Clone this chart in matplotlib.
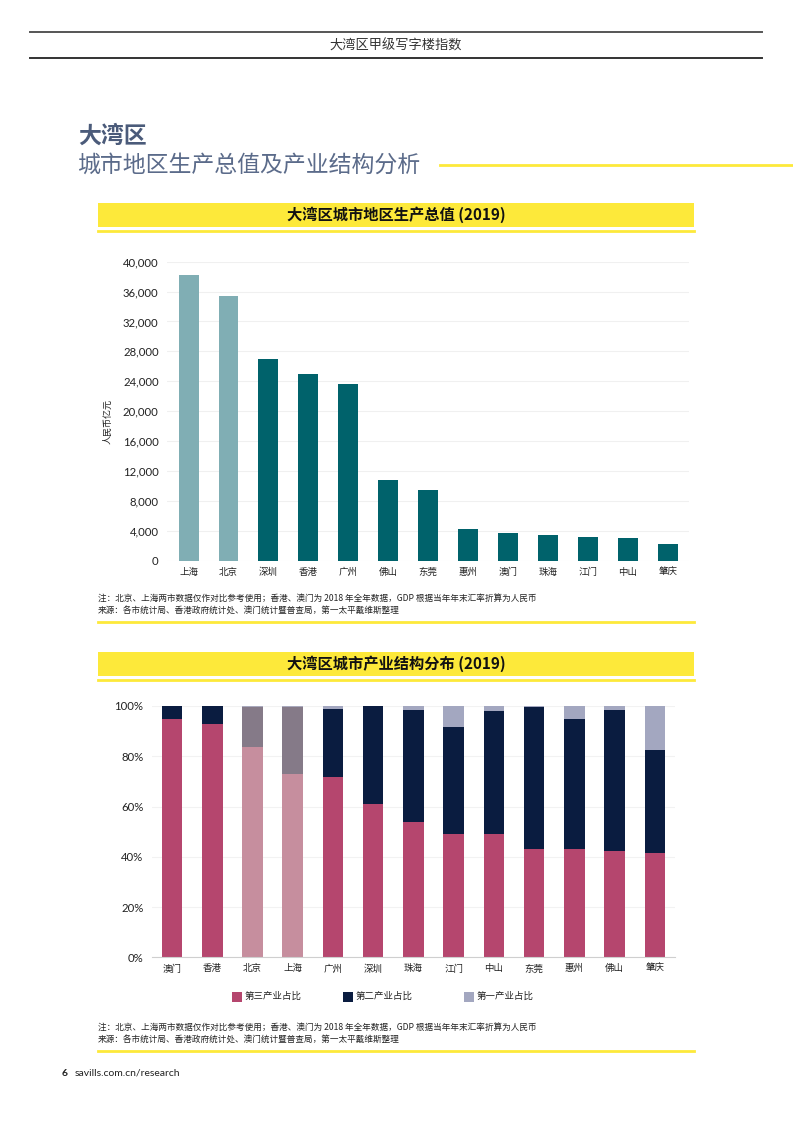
import matplotlib.pyplot as plt
from matplotlib.patches import Rectangle
from matplotlib.lines import Line2D

plt.rcParams['font.family'] = ['Noto Sans CJK SC', 'DejaVu Sans']

W, H = 793, 1122

# datos: PIB por ciudad (亿元)
gdp_cities = ['上海', '北京', '深圳', '香港', '广州', '佛山', '东莞', '惠州', '澳门', '珠海', '江门', '中山', '肇庆']
gdp_values = [38155, 35371, 26927, 25000, 23628, 10751, 9482, 4177, 3750, 3436, 3147, 3101, 2249]
gdp_ticks = [0, 4000, 8000, 12000, 16000, 20000, 24000, 28000, 32000, 36000, 40000]

# datos: estructura industrial (%)
ind_cities = ['澳门', '香港', '北京', '上海', '广州', '深圳', '珠海', '江门', '中山', '东莞', '惠州', '佛山', '肇庆']
tertiary = [95.0, 93.0, 83.7, 72.8, 71.6, 61.0, 53.7, 48.9, 48.9, 43.0, 43.0, 42.3, 41.6]
secondary = [5.0, 6.9, 16.0, 26.9, 27.1, 38.9, 44.7, 42.9, 49.1, 56.7, 51.8, 56.1, 40.9]
primary = [0.0, 0.1, 0.3, 0.3, 1.3, 0.1, 1.6, 8.2, 2.0, 0.3, 5.2, 1.6, 17.5]
pct_ticks = [0, 20, 40, 60, 80, 100]
legend_labels = ['第三产业占比', '第二产业占比', '第一产业占比']

note1 = '注：北京、上海两市数据仅作对比参考使用；香港、澳门为 2018 年全年数据，GDP 根据当年年末汇率折算为人民币'
note2 = '来源：各市统计局、香港政府统计处、澳门统计暨普查局，第一太平戴维斯整理'

YELLOW = '#fde93a'
TEXT = '#222222'
NUM_FONT = ['Lato', 'DejaVu Sans']


def fx(x):
    return x / W


def fy(y):
    return 1 - y / H


def axes_px(x0, y0, x1, y1):
    return fig.add_axes([fx(x0), fy(y1), (x1 - x0) / W, (y1 - y0) / H])


def hline(x0, x1, y, color, lw):
    fig.add_artist(Line2D([fx(x0), fx(x1)], [fy(y), fy(y)], color=color, lw=lw))


def banner(y0, y1, title):
    fig.add_artist(Rectangle((fx(98), fy(y1)), (694 - 98) / W, (y1 - y0) / H,
                             color=YELLOW, lw=0))
    hline(98, 694, y1 + 3.5, YELLOW, 2)
    fig.text(fx(396), fy((y0 + y1) / 2), title, ha='center', va='center',
             fontsize=11, fontweight='bold', color='#111111')


def notes(y):
    fig.text(fx(98), fy(y), note1, fontsize=6.2, color=TEXT, va='center')
    fig.text(fx(98), fy(y + 13), note2, fontsize=6.2, color=TEXT, va='center')
    hline(98, 694, y + 24, YELLOW, 2)


fig = plt.figure(figsize=(W / 100, H / 100), dpi=100)

# cabecera
hline(30, 762, 32, '#555555', 1.4)
hline(30, 762, 58, '#333333', 1.4)
fig.text(fx(396), fy(46), '大湾区甲级写字楼指数', ha='center', va='center', fontsize=9.5, color='#333333')

fig.text(fx(78), fy(136), '大湾区', fontsize=16.5, fontweight='bold', color='#4b5b7a', va='center')
fig.text(fx(77), fy(165), '城市地区生产总值及产业结构分析', fontsize=16.5, fontweight='light',
         color='#5b6b8a', va='center')
hline(440, 793, 165, YELLOW, 2)

# grafico 1
banner(203, 227, '大湾区城市地区生产总值 (2019)')
ax1 = axes_px(167, 261.7, 689, 560.7)
xs = range(len(gdp_cities))
colors1 = ['#80aeb4' if c in ('上海', '北京') else '#00626b' for c in gdp_cities]
ax1.bar(xs, gdp_values, width=0.5, color=colors1, zorder=2)
ax1.set_xlim(-0.54, 12.53)
ax1.set_ylim(0, 40000)
ax1.set_yticks(gdp_ticks)
ax1.set_yticklabels([f'{v:,}' for v in gdp_ticks], fontsize=8.2, family=NUM_FONT, color=TEXT)
ax1.set_xticks(list(xs))
ax1.set_xticklabels(gdp_cities, fontsize=6.8, color=TEXT)
ax1.tick_params(length=0, pad=5)
ax1.tick_params(axis='y', pad=6)
ax1.grid(axis='y', color='#f0f0f0', lw=0.8, zorder=0)
for s in ax1.spines.values():
    s.set_visible(False)
fig.text(fx(108), fy(422), '人民币亿元', rotation=90, ha='center', va='center', fontsize=6.5, color=TEXT)
notes(598)

# grafico 2
banner(652, 676, '大湾区城市产业结构分布 (2019)')
ax2 = axes_px(151.7, 706, 675, 957.3)
xs2 = range(len(ind_cities))
hl = [c in ('北京', '上海') for c in ind_cities]
c_ter = ['#c68e9e' if h else '#b5466e' for h in hl]
c_sec = ['#857a88' if h else '#0a1c40' for h in hl]
c_pri = ['#a9a9bd' if h else '#a3a7c0' for h in hl]
bottom2 = [t + s for t, s in zip(tertiary, secondary)]
ax2.bar(xs2, tertiary, width=0.51, color=c_ter, zorder=2)
ax2.bar(xs2, secondary, width=0.51, bottom=tertiary, color=c_sec, zorder=2)
ax2.bar(xs2, primary, width=0.51, bottom=bottom2, color=c_pri, zorder=2)
ax2.set_xlim(-0.505, 12.5)
ax2.set_ylim(0, 100)
ax2.set_yticks(pct_ticks)
ax2.set_yticklabels([f'{v}%' for v in pct_ticks], fontsize=8.2, family=NUM_FONT, color=TEXT)
ax2.set_xticks(list(xs2))
ax2.set_xticklabels(ind_cities, fontsize=6.8, color=TEXT)
ax2.tick_params(length=0, pad=5)
ax2.tick_params(axis='y', pad=6)
ax2.grid(axis='y', color='#f2f2f2', lw=0.8, zorder=0)
for s in ax2.spines.values():
    s.set_visible(False)
ax2.spines['bottom'].set_visible(True)
ax2.spines['bottom'].set_color('#cfcfcf')

leg_x = [236, 347, 468]
leg_c = ['#b5466e', '#0a1c40', '#a3a7c0']
for x, c, lab in zip(leg_x, leg_c, legend_labels):
    fig.add_artist(Rectangle((fx(x - 4), fy(1001.5)), 10 / W, 10 / H, color=c, lw=0))
    fig.text(fx(x + 9), fy(996.5), lab, fontsize=6.8, color=TEXT, va='center')
notes(1027)

# pie de pagina
fig.text(fx(62), fy(1073), '6', fontsize=7.5, fontweight='bold', color=TEXT, va='center', family=NUM_FONT)
fig.text(fx(75), fy(1073), 'savills.com.cn/research', fontsize=7.5, color=TEXT, va='center', family=NUM_FONT)

fig.savefig('out.png', dpi=100)
